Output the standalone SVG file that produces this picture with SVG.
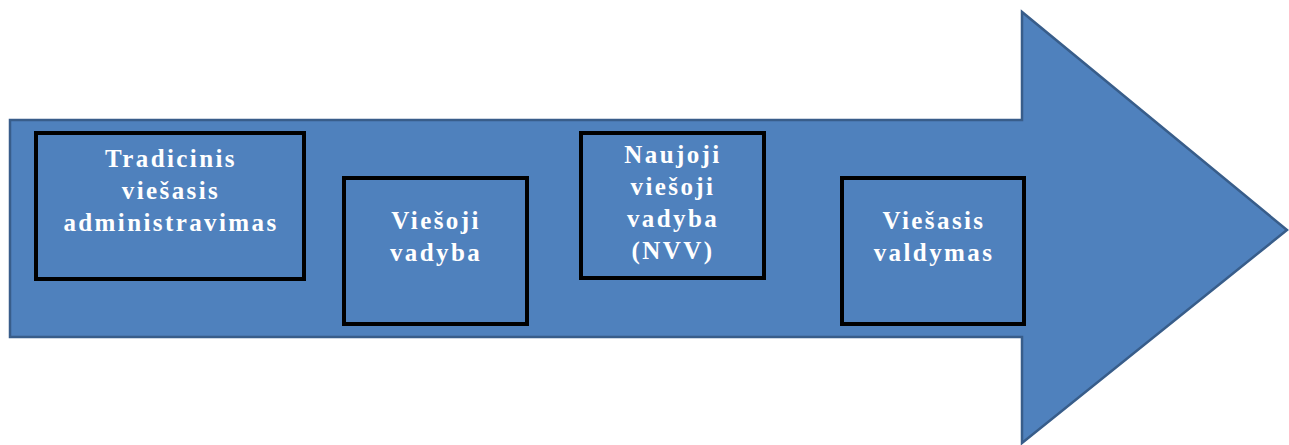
<svg xmlns="http://www.w3.org/2000/svg" width="1289" height="445" viewBox="0 0 1289 445">
<style>
.box{fill:#4F81BD;stroke:#000;stroke-width:4}
.lbl{font-family:"Liberation Serif","Times New Roman",serif;font-weight:bold;font-size:25px;letter-spacing:2.4px;fill:#fff;text-anchor:middle}
</style>
<rect width="1289" height="445" fill="#fff"/>
<g id="arrow">
<polygon points="10,120 1022,120 1022,12 1287,230 1022,443 1022,337 10,337" fill="#4F81BD" stroke="#385D8A" stroke-width="2.5"/>
</g>
<g id="connectors"></g>
<g id="n1">
<rect class="box" x="36" y="133" width="268" height="146"/>
<text class="lbl" x="171" y="167">Tradicinis</text>
<text class="lbl" x="171" y="199">viešasis</text>
<text class="lbl" x="171" y="231">administravimas</text>
</g>
<g id="n2">
<rect class="box" x="344" y="178" width="183" height="146"/>
<text class="lbl" x="436" y="229">Viešoji</text>
<text class="lbl" x="436" y="261">vadyba</text>
</g>
<g id="n3">
<rect class="box" x="581" y="133" width="183" height="145"/>
<text class="lbl" x="673" y="163">Naujoji</text>
<text class="lbl" x="673" y="195">viešoji</text>
<text class="lbl" x="673" y="227">vadyba</text>
<text class="lbl" x="673" y="259">(NVV)</text>
</g>
<g id="n4">
<rect class="box" x="842" y="178" width="182" height="146"/>
<text class="lbl" x="934" y="229">Viešasis</text>
<text class="lbl" x="934" y="261">valdymas</text>
</g>
</svg>
